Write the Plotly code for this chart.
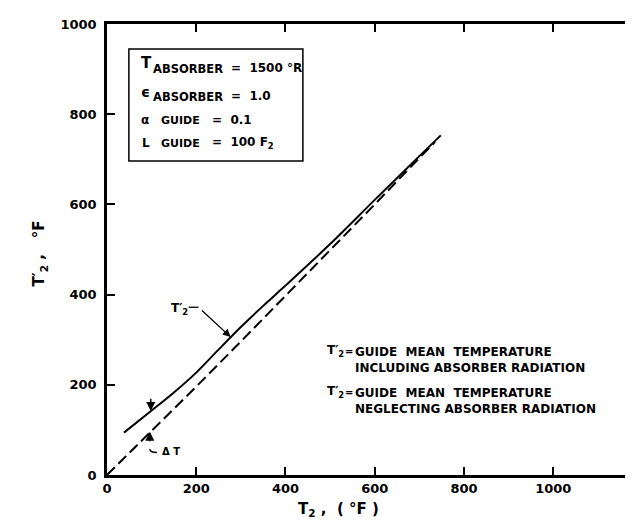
import plotly.graph_objects as go

# ---- data ----
solid_x = [38, 100, 150, 200, 250, 300, 350, 400, 500, 600, 700, 748]
solid_y = [94, 143, 183, 227, 278, 328, 375, 420, 512, 610, 707, 753]
dash_x = [0, 100, 200, 300, 400, 500, 600, 700, 735]
dash_y = [0, 97, 196, 296, 397, 498, 600, 703, 738]
x_ticks = [0, 200, 400, 600, 800, 1000]
y_ticks = [0, 200, 400, 600, 800, 1000]

W, H = 633, 523
L, T, B, R = 99, 16, 56, 0
FONT = "DejaVu Sans"

def px(xp):
    return (xp - L) / (W - L - R)

def py(yp):
    return (H - B - yp) / (H - B - T)

fig = go.Figure()
fig.add_trace(go.Scatter(x=solid_x, y=solid_y, mode="lines",
                         line=dict(color="black", width=2, shape="spline", smoothing=0.8),
                         showlegend=False, hoverinfo="skip"))
fig.add_trace(go.Scatter(x=dash_x, y=dash_y, mode="lines",
                         line=dict(color="black", width=2, dash="11px,5px"),
                         showlegend=False, hoverinfo="skip"))

axis_common = dict(showline=True, linecolor="black", linewidth=2.5, mirror="ticks",
                   ticks="inside", ticklen=8, tickwidth=1.5, tickcolor="black",
                   showgrid=False, zeroline=False,
                   tickfont=dict(family=FONT, size=13, color="black", weight="bold"))

fig.update_xaxes(range=[0, 1190], tickvals=x_ticks, **axis_common)
fig.update_yaxes(range=[0, 1000], tickvals=y_ticks, ticklabelstandoff=5, **axis_common)

fig.update_layout(width=W, height=H, margin=dict(l=L, r=R, t=T, b=B),
                  plot_bgcolor="white", paper_bgcolor="white",
                  font=dict(family=FONT, color="black"))

ann = []

def txt(xp, yp, s, size=12, xanchor="left", yanchor="middle", **kw):
    ann.append(dict(x=px(xp), y=py(yp), xref="paper", yref="paper", showarrow=False,
                    xanchor=xanchor, yanchor=yanchor, text=s,
                    font=dict(family=FONT, size=size, color="black", weight="bold"), **kw))

# axis titles
txt(332, 501, "T<sub>2</sub> ,  ( °F )", size=15, xanchor="center")
txt(31, 245, "T′<sub>2</sub> ,   °F", size=15, xanchor="center", textangle=-90)

# parameter box
txt(131, 55, "T", size=15)
txt(143, 61, "ABSORBER", size=11.5)
txt(222, 60, "=  1500 °R", size=12)
txt(131, 84, "ϵ", size=14)
txt(143, 89, "ABSORBER", size=11.5)
txt(222, 88, "=  1.0", size=12)
txt(131, 112, "α", size=12)
txt(151, 112, "GUIDE", size=11)
txt(203, 112, "=  0.1", size=12)
txt(132, 135, "L", size=12)
txt(151, 135, "GUIDE", size=11)
txt(203, 135, "=  100 F<sub>2</sub>", size=12)

# legend explanations
for y1, second in [(343, "INCLUDING ABSORBER RADIATION"), (384, "NEGLECTING ABSORBER RADIATION")]:
    txt(318, y1, "T′<sub>2</sub>", size=12)
    txt(336, y1, "=", size=10)
    txt(346, y1 - 8, "GUIDE  MEAN  TEMPERATURE<br>" + second, size=12,
        yanchor="top", align="left")

# T2' pointer
ann.append(dict(x=277, y=306, xref="x", yref="y", ax=205, ay=372, axref="x", ayref="y",
                text=" ", showarrow=True, arrowhead=2, arrowsize=1.2, arrowwidth=1.3, arrowcolor="black"))
txt(172, 301, "T′<sub>2</sub>", size=12, xanchor="center")

# delta T arrows
ann.append(dict(x=98, y=142, xref="x", yref="y", ax=98, ay=188, axref="x", ayref="y",
                text=" ", showarrow=True, arrowhead=2, arrowsize=1.2, arrowwidth=1.5, arrowcolor="black"))
ann.append(dict(x=96, y=96, xref="x", yref="y", ax=96, ay=56, axref="x", ayref="y",
                text=" ", showarrow=True, arrowhead=2, arrowsize=1.2, arrowwidth=1.5, arrowcolor="black"))
txt(152, 443, "Δ T", size=10)

fig.update_layout(annotations=ann)

shapes = [
    dict(type="rect", xref="paper", yref="paper", x0=px(121), x1=px(296), y0=py(153), y1=py(41),
         line=dict(color="black", width=1.5)),
    dict(type="line", xref="x", yref="y", x0=183, x1=205, y0=372, y1=372,
         line=dict(color="black", width=1.3)),
    dict(type="path", xref="x", yref="y", path="M 96 57 Q 96 50 112 50",
         line=dict(color="black", width=1.5)),
]
fig.update_layout(shapes=shapes)

fig.write_html("out.html")
